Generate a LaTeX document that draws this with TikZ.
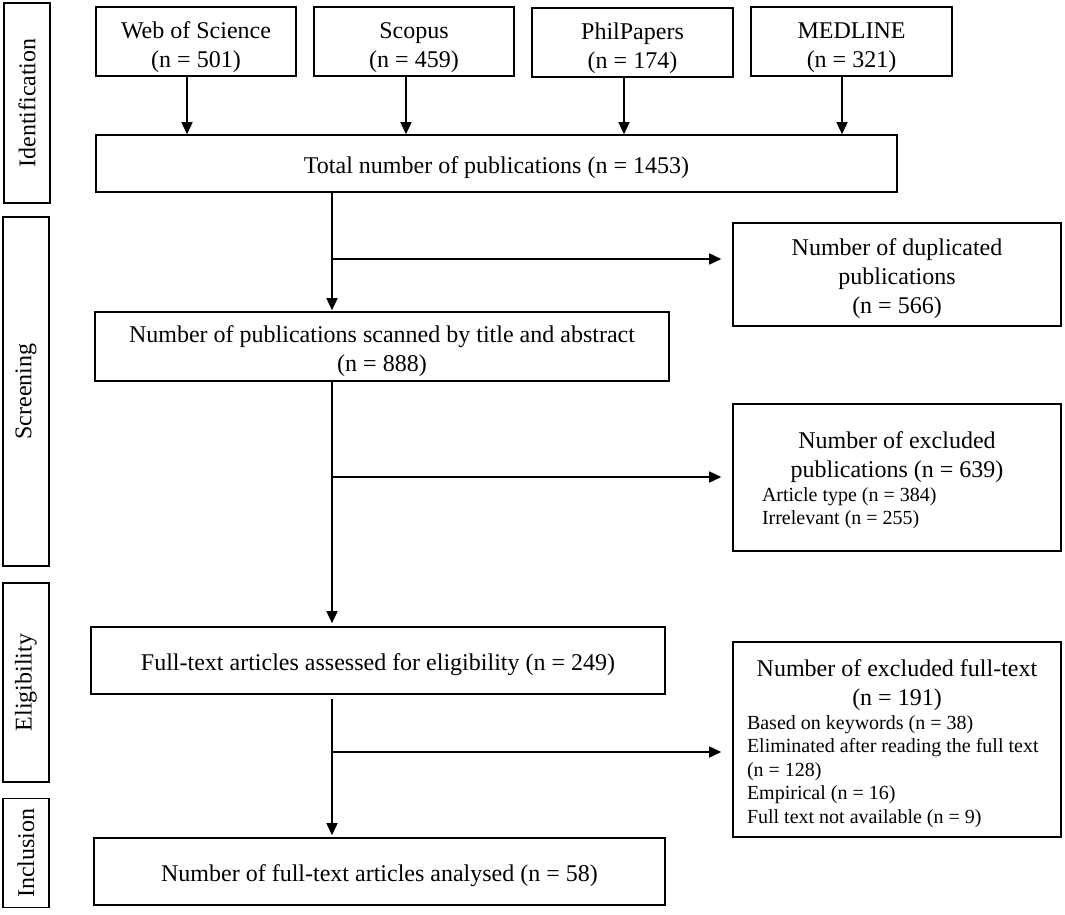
\documentclass[tikz,border=0pt]{standalone}
\usepackage{fontspec}
\setmainfont{Liberation Serif}
\usetikzlibrary{arrows.meta}
\newcommand{\smallfnt}{\fontsize{20}{23.5}\selectfont}
\newcommand{\lowtxt}[2][5pt]{\raisebox{-#1}[\height][\depth]{\begin{tabular}{@{}c@{}}#2\end{tabular}}}
\begin{document}
\begin{tikzpicture}[x=1pt,y=-1pt,
  box/.style={draw, line width=1.6pt, inner sep=0pt, align=center, font=\fontsize{24}{29}\selectfont},
  side/.style={box, minimum width=46pt},
  src/.style={box, minimum width=200pt, minimum height=69pt},
  arr/.style={line width=1.6pt, -{Triangle[length=12pt,width=11pt]}}]
\useasboundingbox (0,0) rectangle (1065,915);
% side labels
\node[side, minimum height=200pt] (idl) at (27,103) {\rotatebox{90}{Identification}};
\node[side, minimum height=349pt] (scl) at (26,391.5) {\rotatebox{90}{Screening}};
\node[side, minimum height=199pt] (ell) at (26,682.5) {\rotatebox{90}{Eligibility}};
\node[side, minimum height=109pt] (inl) at (26,853) {\rotatebox{90}{Inclusion}};
% sources
\node[src] (wos) at (196,41.5) {\lowtxt[6pt]{Web of Science\\(n = 501)}};
\node[src] (sco) at (414,41.5) {\lowtxt[6pt]{Scopus\\(n = 459)}};
\node[src, minimum width=201pt] (phi) at (632.5,42.5) {\lowtxt[6pt]{PhilPapers\\(n = 174)}};
\node[src, minimum width=201pt] (med) at (851.5,41.5) {\lowtxt[6pt]{MEDLINE\\(n = 321)}};
% main boxes
\node[box, minimum width=801pt, minimum height=57pt] (tot) at (496.5,163.5) {\lowtxt[4pt]{Total number of publications (n = 1453)}};
\node[box, minimum width=574pt, minimum height=69pt] (scr) at (382,346.5) {\lowtxt[5pt]{Number of publications scanned by title and abstract\\(n = 888)}};
\node[box, minimum width=574pt, minimum height=67pt] (ful) at (378,660.5) {\lowtxt[4pt]{Full-text articles assessed for eligibility (n = 249)}};
\node[box, minimum width=571pt, minimum height=67pt] (inc) at (379.5,871.5) {\lowtxt[4pt]{Number of full-text articles analysed (n = 58)}};
% exclusion boxes
\node[box, minimum width=328pt, minimum height=103pt] (dup) at (897,274.5) {\lowtxt[4pt]{Number of duplicated\\publications\\(n = 566)}};
\node[box, minimum width=328pt, minimum height=147pt] (exc) at (897,477.5) {\raisebox{-3pt}[\height][\depth]{\parbox{270pt}{\centerline{Number of excluded}\centerline{publications (n = 639)}\smallfnt\mbox{Article type (n = 384)}\\\mbox{Irrelevant (n = 255)}}}};
\node[box, minimum width=328pt, minimum height=195pt] (exf) at (897,739.5) {\raisebox{-4pt}[\height][\depth]{\parbox{300pt}{\centerline{Number of excluded full-text}\centerline{(n = 191)}\smallfnt\mbox{Based on keywords (n = 38)}\\\mbox{Eliminated after reading the full text}\\\mbox{(n = 128)}\\\mbox{Empirical (n = 16)}\\\mbox{Full text not available (n = 9)}}}};
% connectors
\draw[arr] ([xshift=-9pt]wos.south) -- ([xshift=-9pt]wos.south |- tot.north);
\draw[arr] ([xshift=-8pt]sco.south) -- ([xshift=-8pt]sco.south |- tot.north);
\draw[arr] ([xshift=-8.5pt]phi.south) -- ([xshift=-8.5pt]phi.south |- tot.north);
\draw[arr] ([xshift=-9.5pt]med.south) -- ([xshift=-9.5pt]med.south |- tot.north);
\coordinate (mx) at (332,0);
\draw[arr, shorten >=1pt] (tot.south -| mx) -- (scr.north -| mx);
\coordinate (b1) at (332,259);
\draw[arr, shorten >=11pt] (b1) -- (b1 -| dup.west);
\draw[arr, shorten >=3pt] (scr.south -| mx) -- (ful.north -| mx);
\coordinate (b2) at (332,477);
\draw[arr, shorten >=11pt] (b2) -- (b2 -| exc.west);
\draw[arr, shorten <=4pt, shorten >=2pt] (ful.south -| mx) -- (inc.north -| mx);
\coordinate (b3) at (332,752);
\draw[arr, shorten >=11pt] (b3) -- (b3 -| exf.west);
\end{tikzpicture}
\end{document}
